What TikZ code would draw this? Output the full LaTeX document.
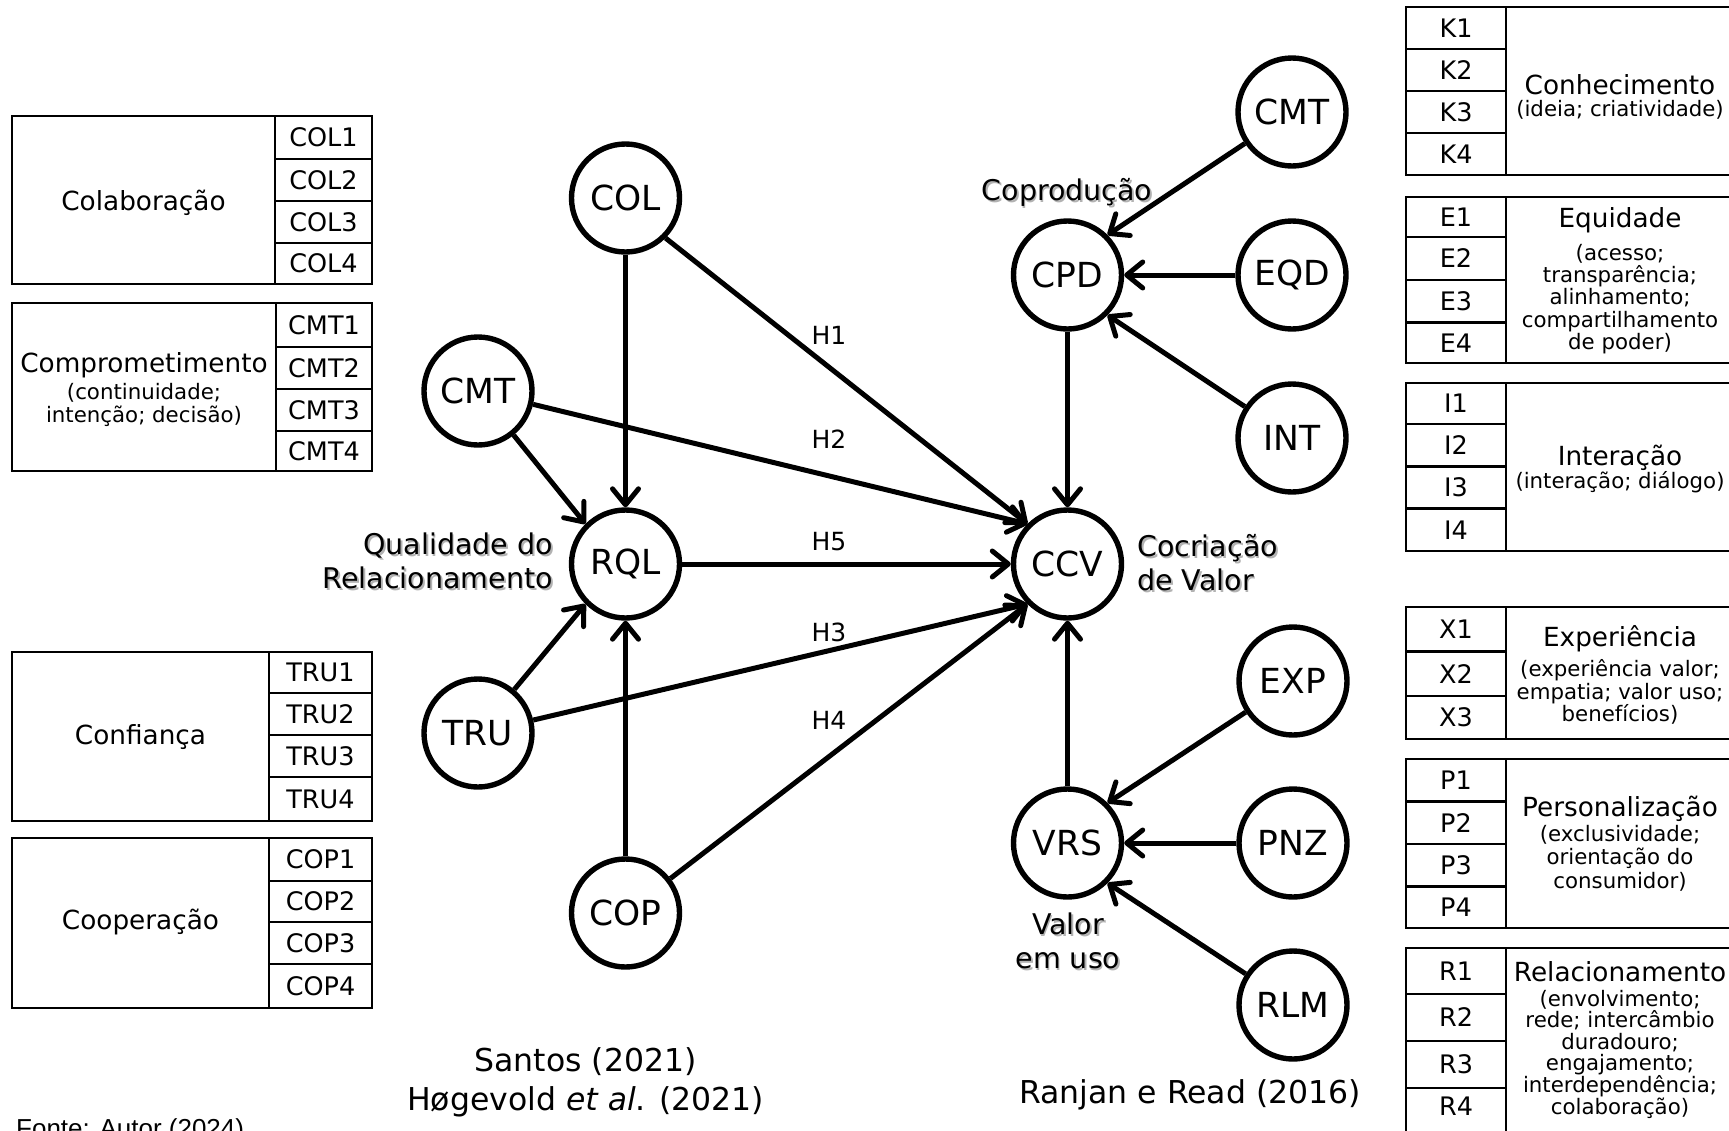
\documentclass[tikz,border=0pt]{standalone}
\usepackage{fontspec}
\setmainfont{DejaVu Sans}
\newfontfamily\sourcefont{Liberation Sans}
\usetikzlibrary{arrows.meta}

\newcommand\fsz[2]{\fontsize{#1}{#2}\selectfont}
% label with a soft drop shadow
\newcommand\shadowed[1]{\makebox[0pt][l]{\raisebox{-1.8pt}{\hspace{1.8pt}\textcolor{black!30}{#1}}}#1}

\begin{document}
\begin{tikzpicture}[x=1pt,y=-1pt,
  var/.style={circle, draw, line width=5.4pt, minimum size=108pt, inner sep=0pt, font=\fsz{34.5}{40}},
  link/.style={line width=5pt, -{Straight Barb[length=16pt,width=26pt,round]}},
  hyp/.style={font=\fsz{25}{30}, inner sep=0pt},
  tbl/.style={line width=2.8pt},
  cellLbl/.style={font=\fsz{25.5}{30}, inner sep=0pt, text height=18.6pt, text depth=0pt},
  head/.style={font=\fsz{26.3}{30}, inner sep=0pt},
  note/.style={font=\fsz{21.3}{22.3}, align=center, inner sep=0pt},
  tag/.style={font=\fsz{28.5}{34}, inner sep=0pt},
  cite/.style={font=\fsz{31.5}{39}, align=center, inner sep=0pt},
]
\fill[white] (0,0) rectangle (1729,1130);
\useasboundingbox (0,0) rectangle (1729,1130);

% ---------------- constructs ----------------
\node[var] (col)  at (625.5,198) {COL};
\node[var] (cmtL) at (478,391)   {CMT};
\node[var] (rql)  at (625.5,564) {RQL};
\node[var] (tru)  at (478,733)   {TRU};
\node[var] (cop)  at (625.5,913) {COP};
\node[var] (ccv)  at (1067.5,564) {CCV};
\node[var] (cpd)  at (1067.5,275) {CPD};
\node[var] (vrs)  at (1067.5,843) {VRS};
\node[var] (cmtR) at (1292,112)  {CMT};
\node[var] (eqd)  at (1292,275)  {EQD};
\node[var] (int)  at (1292,438)  {INT};
\node[var] (exp)  at (1293,681)  {EXP};
\node[var] (pnz)  at (1293,843)  {PNZ};
\node[var] (rlm)  at (1293,1005) {RLM};

% ---------------- paths ----------------
\draw[link] (col) -- (rql);
\draw[link] (col.south east) -- (ccv.north west);
\draw[link] (cmtL) -- (rql.north west);
\draw[link] (cmtL) -- (ccv.north west);
\draw[link] (rql) -- (ccv);
\draw[link] (tru) -- (rql.south west);
\draw[link] (tru) -- (ccv.south west);
\draw[link] (cop) -- (rql);
\draw[link] (cop) -- (ccv.south west);
\draw[link] (cmtR) -- (cpd.north east);
\draw[link] (eqd) -- (cpd);
\draw[link] (int) -- (cpd.south east);
\draw[link] (cpd) -- (ccv);
\draw[link] (exp) -- (vrs.north east);
\draw[link] (pnz) -- (vrs);
\draw[link] (rlm) -- (vrs.south east);
\draw[link] (vrs) -- (ccv);

% hypotheses
\node[hyp] (h1) at (829,335) {H1};
\node[hyp] (h2) at (829,439) {H2};
\node[hyp] (h5) at (829,542) {H5};
\node[hyp] (h3) at (829,632) {H3};
\node[hyp] (h4) at (829,720) {H4};

% construct names
\node[tag] (coprod) at (1067,193) {\shadowed{Coprodução}};
\node[tag, align=right, anchor=east] (rqlname) at (553,562) {\shadowed{Qualidade do}\\\shadowed{Relacionamento}};
\node[tag, align=left, anchor=west] (ccvname) at (1137,564) {\shadowed{Cocriação}\\\shadowed{de Valor}};
\node[tag, align=center] (vrsname) at (1068,942) {\shadowed{Valor}\\\shadowed{em uso}};

% sources
\node[cite] (src1) at (585.5,1082) {Santos (2021)\\Høgevold \textit{et al}. (2021)};
\node[cite] (src2) at (1190,1095) {Ranjan e Read (2016)};
\node[anchor=base west, inner sep=0pt, font=\sourcefont\fsz{26}{30}] (fonte) at (16,1137) {Fonte: Autor (2024)};

% ---------------- left measurement tables ----------------
% Colaboracao
\draw[tbl] (12,116) rectangle (372,284) (275,116) -- (275,284);
\foreach \y in {159,201,243} \draw[tbl] (275,\y) -- (372,\y);
\node[cellLbl] (col1) at (323.5,137.5) {COL1};
\node[cellLbl] (col2) at (323.5,180) {COL2};
\node[cellLbl] (col3) at (323.5,222) {COL3};
\node[cellLbl] (col4) at (323.5,263.5) {COL4};
\node[head] (colh) at (143.5,203) {Colaboração};

% Comprometimento
\draw[tbl] (12,303) rectangle (372,471) (276,303) -- (276,471);
\foreach \y in {347,389,431} \draw[tbl] (276,\y) -- (372,\y);
\node[cellLbl] (cmt1) at (324,325) {CMT1};
\node[cellLbl] (cmt2) at (324,368) {CMT2};
\node[cellLbl] (cmt3) at (324,410) {CMT3};
\node[cellLbl] (cmt4) at (324,451) {CMT4};
\node[head] (cmth) at (144,365) {Comprometimento};
\node[note] (cmtn) at (144,405) {(continuidade;\\intenção; decisão)};

% Confianca
\draw[tbl] (12,652) rectangle (372,821) (269,652) -- (269,821);
\foreach \y in {693,735,777} \draw[tbl] (269,\y) -- (372,\y);
\node[cellLbl] (tru1) at (320.5,672.5) {TRU1};
\node[cellLbl] (tru2) at (320.5,714) {TRU2};
\node[cellLbl] (tru3) at (320.5,756) {TRU3};
\node[cellLbl] (tru4) at (320.5,799) {TRU4};
\node[head] (truh) at (140.5,737) {Confiança};

% Cooperacao
\draw[tbl] (12,838) rectangle (372,1008) (269,838) -- (269,1008);
\foreach \y in {881,922,964} \draw[tbl] (269,\y) -- (372,\y);
\node[cellLbl] (cop1) at (320.5,859.5) {COP1};
\node[cellLbl] (cop2) at (320.5,901.5) {COP2};
\node[cellLbl] (cop3) at (320.5,943) {COP3};
\node[cellLbl] (cop4) at (320.5,986) {COP4};
\node[head] (coph) at (140.5,922.5) {Cooperação};

% ---------------- right measurement tables ----------------
% Conhecimento
\draw[tbl] (1406,7) rectangle (1734,175) (1506,7) -- (1506,175);
\foreach \y in {49,91,133} \draw[tbl] (1406,\y) -- (1506,\y);
\node[cellLbl] (k1) at (1456,28) {K1};
\node[cellLbl] (k2) at (1456,70) {K2};
\node[cellLbl] (k3) at (1456,112) {K3};
\node[cellLbl] (k4) at (1456,154) {K4};
\node[head] (kh) at (1620,85) {Conhecimento};
\node[note] (kn) at (1620,110) {(ideia; criatividade)};

% Equidade
\draw[tbl] (1406,197) rectangle (1734,363) (1506,197) -- (1506,363);
\foreach \y in {237,280,322.5} \draw[tbl] (1406,\y) -- (1506,\y);
\node[cellLbl] (e1) at (1456,217) {E1};
\node[cellLbl] (e2) at (1456,258.5) {E2};
\node[cellLbl] (e3) at (1456,301) {E3};
\node[cellLbl] (e4) at (1456,343) {E4};
\node[head] (eh) at (1620,220) {Equidade};
\node[note] (en) at (1620,299) {(acesso;\\transparência;\\alinhamento;\\compartilhamento\\de poder)};

% Interacao
\draw[tbl] (1406,383) rectangle (1734,551) (1506,383) -- (1506,551);
\foreach \y in {424,466.5,508.5} \draw[tbl] (1406,\y) -- (1506,\y);
\node[cellLbl] (i1) at (1456,403.5) {I1};
\node[cellLbl] (i2) at (1456,445) {I2};
\node[cellLbl] (i3) at (1456,487.5) {I3};
\node[cellLbl] (i4) at (1456,530) {I4};
\node[head] (ih) at (1620,458) {Interação};
\node[note] (in) at (1620,482) {(interação; diálogo)};

% Experiencia
\draw[tbl] (1406,607) rectangle (1734,739) (1506,607) -- (1506,739);
\foreach \y in {651.5,696} \draw[tbl] (1406,\y) -- (1506,\y);
\node[cellLbl] (x1) at (1456,629) {X1};
\node[cellLbl] (x2) at (1456,674) {X2};
\node[cellLbl] (x3) at (1456,717.5) {X3};
\node[head] (xh) at (1620,639) {Experiência};
\node[note] (xn) at (1620,692) {(experiência valor;\\empatia; valor uso;\\benefícios)};

% Personalizacao
\draw[tbl] (1406,759) rectangle (1734,928) (1506,759) -- (1506,928);
\foreach \y in {801.5,844,886.5} \draw[tbl] (1406,\y) -- (1506,\y);
\node[cellLbl] (p1) at (1456,780) {P1};
\node[cellLbl] (p2) at (1456,823) {P2};
\node[cellLbl] (p3) at (1456,865) {P3};
\node[cellLbl] (p4) at (1456,907) {P4};
\node[head] (ph) at (1620,809) {Personalização};
\node[note, font=\fsz{21.3}{23.5}] (pn) at (1620,858) {(exclusividade;\\orientação do\\consumidor)};

% Relacionamento
\draw[tbl] (1406,948) rectangle (1734,1136) (1506,948) -- (1506,1136);
\foreach \y in {994,1041,1088} \draw[tbl] (1406,\y) -- (1506,\y);
\node[cellLbl] (r1) at (1456,971) {R1};
\node[cellLbl] (r2) at (1456,1017.5) {R2};
\node[cellLbl] (r3) at (1456,1064.5) {R3};
\node[cellLbl] (r4) at (1456,1106) {R4};
\node[head] (rh) at (1620,972) {Relacionamento};
\node[note, font=\fsz{21.3}{21.6}] (rn) at (1620,1054) {(envolvimento;\\rede; intercâmbio\\duradouro;\\engajamento;\\interdependência;\\colaboração)};
\end{tikzpicture}
\end{document}
